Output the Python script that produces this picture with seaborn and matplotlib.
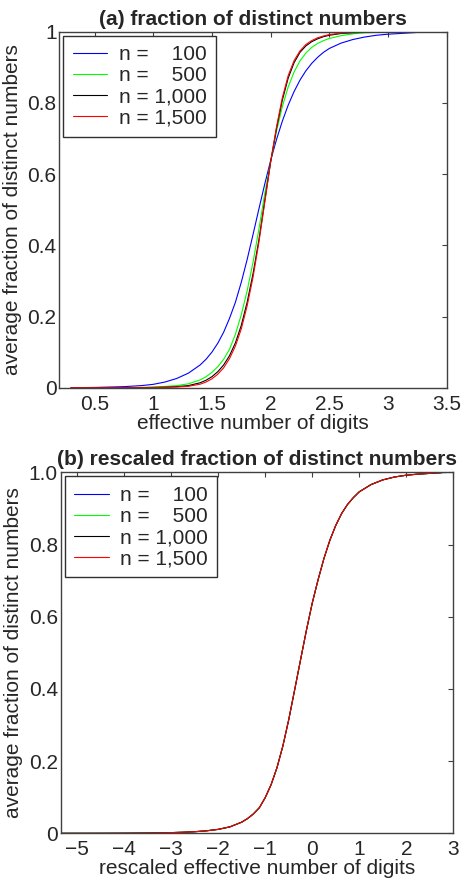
import numpy as np
import pandas as pd
import matplotlib
matplotlib.use('Agg')
import matplotlib.pyplot as plt
import seaborn as sns

# legend labels (numbers right-aligned with spaces like the original)
labels = ['n =    100', 'n =    500', 'n = 1,000', 'n = 1,500']
colors = ['#0000ff', '#00ff00', '#000000', '#ff0000']

# (a) effective number of digits
x_top = [0.3, 0.5, 0.75, 0.9, 1.0, 1.1, 1.2, 1.3, 1.4, 1.45, 1.5, 1.55, 1.6,
         1.65, 1.7, 1.75, 1.8, 1.85, 1.9, 1.95, 2.0, 2.05, 2.1, 2.15, 2.2,
         2.25, 2.3, 2.35, 2.4, 2.45, 2.5, 2.6, 2.7, 2.8, 2.9, 3.0, 3.25, 3.5]
y_n100 = [0.0, 0.0008, 0.003, 0.006, 0.0095, 0.016, 0.026, 0.041, 0.064, 0.08,
          0.1, 0.125, 0.156, 0.195, 0.24, 0.296, 0.36, 0.43, 0.502, 0.572,
          0.638, 0.697, 0.749, 0.794, 0.832, 0.864, 0.89, 0.911, 0.928, 0.942,
          0.953, 0.968, 0.978, 0.985, 0.99, 0.993, 0.998, 1.0]
y_n500 = [0.0, 0.0001, 0.0005, 0.001, 0.002, 0.0035, 0.006, 0.011, 0.022, 0.031,
          0.043, 0.059, 0.08, 0.108, 0.15, 0.205, 0.272, 0.352, 0.445, 0.545,
          0.634, 0.72, 0.79, 0.845, 0.887, 0.918, 0.94, 0.956, 0.967, 0.975,
          0.981, 0.989, 0.994, 0.997, 0.998, 0.999, 1.0, 1.0]
y_n1000 = [0.0, 0.0, 0.0002, 0.0004, 0.0008, 0.0015, 0.003, 0.006, 0.014, 0.021,
           0.031, 0.045, 0.064, 0.09, 0.126, 0.175, 0.24, 0.32, 0.415, 0.525,
           0.634, 0.728, 0.808, 0.87, 0.913, 0.942, 0.96, 0.972, 0.98, 0.986,
           0.99, 0.995, 0.997, 0.999, 1.0, 1.0, 1.0, 1.0]
y_n1500 = [0.0, 0.0, 0.0001, 0.0003, 0.0005, 0.001, 0.002, 0.004, 0.01, 0.016,
           0.025, 0.038, 0.056, 0.082, 0.117, 0.165, 0.23, 0.31, 0.408, 0.52,
           0.634, 0.732, 0.815, 0.877, 0.919, 0.946, 0.964, 0.975, 0.983, 0.988,
           0.992, 0.996, 0.998, 0.999, 1.0, 1.0, 1.0, 1.0]

# (b) rescaled effective number of digits (curves collapse onto one)
x_bot = [-5.35, -4.5, -4.0, -3.5, -3.0, -2.75, -2.5, -2.25, -2.0, -1.75, -1.5,
         -1.375, -1.25, -1.125, -1.0, -0.875, -0.75, -0.625, -0.5, -0.375,
         -0.25, -0.125, 0.0, 0.125, 0.25, 0.375, 0.5, 0.625, 0.75, 0.875, 1.0,
         1.25, 1.5, 1.75, 2.0, 2.25, 2.5, 2.75, 3.0]
y_bot = [0.0, 0.0001, 0.0003, 0.0008, 0.002, 0.003, 0.0045, 0.007, 0.011, 0.018,
         0.031, 0.041, 0.054, 0.071, 0.099, 0.135, 0.182, 0.242, 0.315, 0.397,
         0.48, 0.562, 0.638, 0.703, 0.762, 0.812, 0.853, 0.886, 0.911, 0.93,
         0.946, 0.966, 0.979, 0.987, 0.992, 0.995, 0.997, 0.999, 1.0]

top_series = [y_n100, y_n500, y_n1000, y_n1500]

rows = []
for lab, ys in zip(labels, top_series):
    for xv, yv in zip(x_top, ys):
        rows.append({'x': xv, 'y': yv, 'n': lab})
df_top = pd.DataFrame(rows)

rows = []
for i, lab in enumerate(labels):
    # n = 100 runs to the right edge, the others stop a bit before
    npts = len(x_bot) if i == 0 else len(x_bot) - 1
    for xv, yv in zip(x_bot[:npts], y_bot[:npts]):
        rows.append({'x': xv, 'y': yv, 'n': lab})
df_bot = pd.DataFrame(rows)

sns.set_style('white')
plt.rcParams['font.family'] = ['Liberation Sans', 'DejaVu Sans']
plt.rcParams['font.size'] = 15

fig = plt.figure(figsize=(4.63, 8.81), dpi=100)
ax1 = fig.add_axes([0.1281, 0.5599, 0.8367, 0.4041])
ax2 = fig.add_axes([0.1311, 0.0541, 0.848, 0.4098])

for ax, df in [(ax1, df_top), (ax2, df_bot)]:
    sns.lineplot(data=df, x='x', y='y', hue='n', hue_order=labels,
                 palette=colors, estimator=None, sort=False, linewidth=0.8,
                 legend=False, ax=ax)
    ax.legend(ax.lines, labels, loc='upper left', fontsize=15,
              frameon=True, fancybox=False, edgecolor='#303030',
              framealpha=1, borderaxespad=0.2, borderpad=0.45,
              labelspacing=0.1, handlelength=1.65, handletextpad=0.55)
    ax.legend_.get_frame().set_linewidth(1.0)
    ax.tick_params(direction='in', top=True, right=True, length=3.5,
                   width=0.8, color='#404040', labelsize=15)
    ax.tick_params(axis='x', pad=5)
    ax.tick_params(axis='y', pad=2)
    for sp in ax.spines.values():
        sp.set_color('#404040')
        sp.set_linewidth(1.0)

ax1.set_xlim(0.2, 3.5)
ax1.set_ylim(0, 1)
ax1.set_xticks([0.5, 1, 1.5, 2, 2.5, 3, 3.5],
               ['0.5', '1', '1.5', '2', '2.5', '3', '3.5'])
ax1.set_yticks([0, 0.2, 0.4, 0.6, 0.8, 1], ['0', '0.2', '0.4', '0.6', '0.8', '1'])
ax1.set_title('(a) fraction of distinct numbers', fontsize=15,
              fontweight='bold', pad=5)
ax1.set_xlabel('effective number of digits', fontsize=15, labelpad=0)
ax1.set_ylabel('average fraction of distinct numbers', fontsize=15, labelpad=4)

ax2.set_xlim(-5.35, 3)
ax2.set_ylim(0, 1)
ax2.set_xticks([-5, -4, -3, -2, -1, 0, 1, 2, 3],
               ['\u22125', '\u22124', '\u22123', '\u22122', '\u22121',
                '0', '1', '2', '3'])
ax2.set_yticks([0, 0.2, 0.4, 0.6, 0.8, 1.0],
               ['0', '0.2', '0.4', '0.6', '0.8', '1.0'])
ax2.set_title('(b) rescaled fraction of distinct numbers', fontsize=15,
              fontweight='bold', pad=5)
ax2.set_xlabel('rescaled effective number of digits', fontsize=15, labelpad=0)
ax2.set_ylabel('average fraction of distinct numbers', fontsize=15, labelpad=4)

fig.savefig('out.png', dpi=100)
